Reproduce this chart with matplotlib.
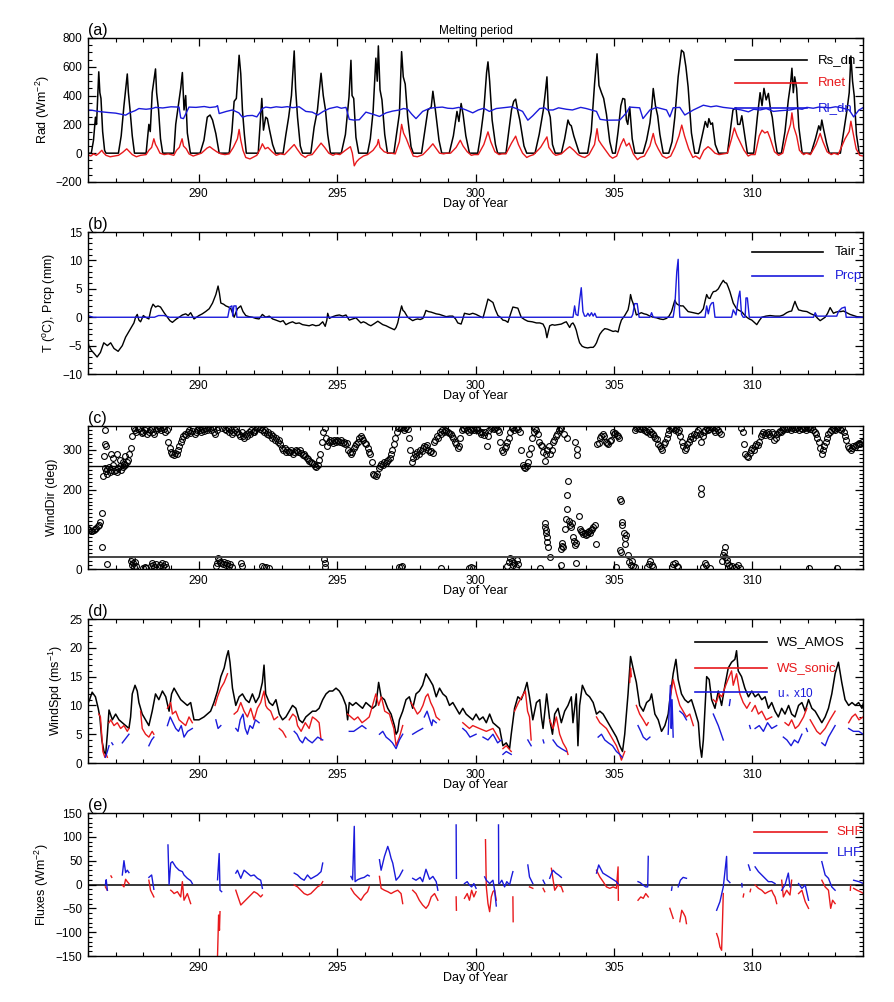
import numpy as np
import matplotlib
matplotlib.use("Agg")
import matplotlib.pyplot as plt
from matplotlib.ticker import MultipleLocator

plt.rcParams['font.family'] = ['Liberation Sans', 'DejaVu Sans']
plt.rcParams['mathtext.fontset'] = 'custom'
plt.rcParams['mathtext.rm'] = 'Liberation Sans'
plt.rcParams['mathtext.it'] = 'Liberation Sans'

# ---------------- (a) radiation, W m-2 ----------------
rs_dn = [
    (285.97, 0), (286.12, 0), (286.2, 90), (286.27, 250), (286.31, 200), (286.36, 420), (286.39, 565), (286.43, 420), (286.47, 380), (286.53, 150), (286.6, 20), (286.65, 0),
    (287.1, 0), (287.2, 120), (287.3, 330), (287.38, 480), (287.42, 550), (287.46, 420), (287.52, 300), (287.6, 120), (287.68, 0),
    (288.1, 0), (288.2, 200), (288.25, 150), (288.32, 420), (288.38, 500), (288.44, 585), (288.48, 420), (288.55, 300), (288.62, 100), (288.7, 0),
    (289.1, 0), (289.17, 200), (289.29, 370), (289.35, 450), (289.41, 560), (289.47, 300), (289.53, 400), (289.59, 140), (289.7, 0),
    (290.05, 0), (290.19, 90), (290.31, 250), (290.41, 265), (290.5, 230), (290.62, 135), (290.74, 0),
    (291.1, 0), (291.2, 150), (291.28, 360), (291.36, 380), (291.46, 680), (291.52, 550), (291.58, 300), (291.65, 130), (291.72, 0),
    (292.15, 0), (292.28, 380), (292.34, 160), (292.42, 250), (292.48, 240), (292.56, 160), (292.67, 60), (292.78, 0),
    (293.05, 0), (293.15, 130), (293.25, 250), (293.35, 400), (293.45, 710), (293.5, 450), (293.57, 250), (293.67, 50), (293.75, 0),
    (294.05, 0), (294.17, 180), (294.29, 300), (294.42, 555), (294.5, 400), (294.58, 300), (294.66, 130), (294.76, 0),
    (295.15, 0), (295.3, 130), (295.43, 390), (295.5, 645), (295.54, 400), (295.6, 380), (295.68, 110), (295.78, 0),
    (296.1, 0), (296.2, 100), (296.3, 290), (296.4, 660), (296.45, 500), (296.49, 745), (296.55, 440), (296.62, 370), (296.72, 130), (296.82, 0),
    (297.05, 0), (297.13, 110), (297.25, 275), (297.33, 705), (297.39, 530), (297.46, 480), (297.55, 250), (297.67, 45), (297.75, 0),
    (298.05, 0), (298.15, 130), (298.28, 300), (298.4, 320), (298.46, 430), (298.55, 300), (298.68, 90), (298.78, 0),
    (299.05, 0), (299.2, 120), (299.33, 290), (299.4, 220), (299.48, 345), (299.55, 270), (299.65, 120), (299.78, 0),
    (300.08, 0), (300.18, 120), (300.3, 300), (300.4, 560), (300.45, 634), (300.51, 500), (300.6, 230), (300.72, 60), (300.8, 0),
    (301.1, 0), (301.2, 150), (301.3, 300), (301.38, 360), (301.45, 375), (301.52, 300), (301.6, 230), (301.75, 50), (301.85, 0),
    (302.15, 0), (302.3, 130), (302.45, 300), (302.52, 420), (302.58, 530), (302.63, 300), (302.7, 250), (302.78, 60), (302.88, 0),
    (303.1, 0), (303.22, 100), (303.34, 230), (303.4, 200), (303.46, 190), (303.55, 120), (303.65, 60), (303.75, 0),
    (304.05, 0), (304.18, 150), (304.3, 480), (304.39, 690), (304.46, 470), (304.55, 420), (304.63, 380), (304.73, 270), (304.85, 80), (304.95, 0),
    (305.05, 0), (305.15, 150), (305.25, 330), (305.32, 380), (305.39, 375), (305.45, 230), (305.5, 200), (305.57, 320), (305.66, 100), (305.76, 0),
    (306.05, 0), (306.18, 90), (306.3, 210), (306.37, 330), (306.42, 449), (306.5, 330), (306.58, 260), (306.66, 130), (306.78, 0),
    (306.98, 0), (307.1, 80), (307.2, 250), (307.32, 530), (307.44, 715), (307.52, 700), (307.6, 600), (307.68, 460), (307.8, 140), (307.92, 0),
    (308.05, 0), (308.2, 130), (308.3, 220), (308.38, 180), (308.43, 240), (308.5, 200), (308.56, 210), (308.66, 60), (308.78, 0),
    (309.1, 0), (309.2, 150), (309.3, 300), (309.41, 315), (309.47, 200), (309.55, 200), (309.62, 260), (309.72, 130), (309.82, 0),
    (310.05, 0), (310.18, 250), (310.28, 420), (310.35, 330), (310.42, 450), (310.5, 370), (310.58, 415), (310.66, 300), (310.72, 250), (310.82, 90), (310.9, 0),
    (311.05, 0), (311.18, 150), (311.3, 370), (311.38, 480), (311.43, 590), (311.48, 420), (311.53, 530), (311.6, 450), (311.68, 180), (311.8, 0),
    (312.12, 0), (312.28, 100), (312.4, 190), (312.46, 160), (312.51, 230), (312.57, 170), (312.68, 70), (312.78, 0),
    (313.18, 0), (313.3, 150), (313.42, 300), (313.5, 420), (313.56, 675), (313.62, 500), (313.68, 400), (313.76, 130), (313.86, 0), (314.0, 0),
]
rnet = [
    (285.97, -10), (286.1, -20), (286.2, -5), (286.3, -15), (286.4, 0), (286.5, 20), (286.55, 5), (286.65, -15), (286.8, -25), (286.95, -20),
    (287.1, -15), (287.25, 5), (287.4, 30), (287.5, 10), (287.6, -10), (287.75, -25), (287.9, -15),
    (288.1, -10), (288.2, 20), (288.3, 40), (288.38, 100), (288.44, 60), (288.5, 40), (288.6, 0), (288.75, -10), (288.9, -5),
    (289.1, -15), (289.2, 20), (289.3, 40), (289.4, 100), (289.45, 50), (289.55, 30), (289.65, -5), (289.8, -20), (289.95, -10),
    (290.1, 0), (290.3, 35), (290.4, 45), (290.5, 30), (290.65, 10), (290.8, -5), (290.95, -10),
    (291.1, -5), (291.25, 40), (291.4, 100), (291.46, 165), (291.52, 90), (291.6, 20), (291.7, -30), (291.85, -40), (291.95, -30),
    (292.1, -15), (292.25, 40), (292.3, 65), (292.4, 30), (292.5, 40), (292.65, 10), (292.8, -15), (292.95, -5),
    (293.1, -10), (293.3, 30), (293.45, 60), (293.55, 30), (293.7, -10), (293.85, -30), (293.95, -15),
    (294.1, -10), (294.3, 40), (294.42, 70), (294.55, 40), (294.7, 0), (294.85, -15), (294.95, -5),
    (295.1, -10), (295.3, 20), (295.48, 45), (295.55, 0), (295.62, -88), (295.7, -60), (295.8, -40), (295.95, -20),
    (296.1, -10), (296.3, 20), (296.45, 60), (296.49, 95), (296.55, 40), (296.7, 10), (296.85, 0), (296.95, 0),
    (297.1, -5), (297.25, 80), (297.33, 200), (297.4, 140), (297.5, 100), (297.6, 50), (297.75, -20), (297.9, -25),
    (298.1, -10), (298.3, 30), (298.46, 65), (298.55, 40), (298.7, 0), (298.85, -5), (298.95, 0),
    (299.1, 0), (299.3, 40), (299.45, 90), (299.55, 50), (299.7, 10), (299.85, -15), (299.95, -10),
    (300.1, -10), (300.3, 60), (300.45, 148), (300.55, 80), (300.7, 10), (300.85, -10), (300.95, -5),
    (301.1, -5), (301.3, 70), (301.45, 118), (301.55, 60), (301.7, 0), (301.85, -30), (301.95, -20),
    (302.1, -10), (302.35, 40), (302.58, 113), (302.65, 40), (302.8, 0), (302.9, -15),
    (303.1, -5), (303.3, 30), (303.4, 45), (303.55, 20), (303.7, -10), (303.85, -25), (303.95, -30),
    (304.1, -10), (304.3, 60), (304.39, 170), (304.45, 90), (304.55, 60), (304.7, 20), (304.85, -20), (304.95, -35),
    (305.1, -20), (305.25, 60), (305.35, 100), (305.45, 50), (305.55, 70), (305.7, -5), (305.85, -45), (305.95, -30),
    (306.1, -20), (306.3, 50), (306.42, 137), (306.5, 70), (306.6, 30), (306.75, -20), (306.9, -35),
    (307.05, -20), (307.2, 40), (307.35, 120), (307.45, 195), (307.55, 120), (307.7, 30), (307.85, -30), (307.95, -20),
    (308.1, -40), (308.25, 20), (308.4, 45), (308.5, 30), (308.65, 0), (308.8, -10), (308.95, -5),
    (309.1, 0), (309.25, 100), (309.35, 175), (309.45, 120), (309.55, 80), (309.7, 20), (309.85, -20), (309.95, -10),
    (310.1, -10), (310.25, 120), (310.35, 160), (310.45, 140), (310.55, 150), (310.65, 100), (310.8, 10), (310.95, -15),
    (311.1, 0), (311.25, 120), (311.38, 200), (311.43, 280), (311.5, 180), (311.6, 120), (311.7, 20), (311.85, -10), (311.95, 0),
    (312.1, -10), (312.3, 60), (312.45, 137), (312.55, 80), (312.7, 10), (312.85, -10), (312.95, 0),
    (313.1, -10), (313.35, 100), (313.5, 150), (313.56, 222), (313.62, 160), (313.75, 30), (313.88, -15), (314.0, -20),
]
rl_dn = [
    (285.97, 300), (286.15, 298), (286.3, 292), (286.45, 288), (286.6, 285), (286.75, 282), (287.0, 278), (287.2, 270), (287.36, 264),
    (287.5, 280), (287.7, 295), (287.84, 310), (288.1, 305), (288.32, 310), (288.44, 318), (288.7, 314), (289.0, 322), (289.29, 320),
    (289.35, 245), (289.45, 240), (289.5, 260), (289.65, 320), (289.9, 318), (290.2, 324), (290.4, 317), (290.62, 322), (290.68, 330),
    (290.74, 275), (291.0, 290), (291.22, 300), (291.45, 280), (291.58, 250), (291.75, 260), (291.94, 262), (292.1, 252), (292.3, 310),
    (292.42, 320), (292.6, 315), (292.8, 322), (293.0, 318), (293.2, 323), (293.4, 316), (293.63, 322), (293.87, 290), (294.1, 285),
    (294.3, 265), (294.5, 290), (294.72, 310), (295.0, 322), (295.15, 312), (295.32, 318), (295.44, 235), (295.6, 230), (295.8, 232),
    (296.04, 285), (296.3, 270), (296.53, 255), (296.77, 280), (297.0, 292), (297.25, 300), (297.4, 310), (297.55, 305), (297.7, 270),
    (297.85, 240), (298.09, 290), (298.3, 308), (298.46, 315), (298.8, 320), (299.0, 312), (299.18, 310), (299.4, 318), (299.66, 300),
    (299.9, 280), (300.1, 300), (300.3, 312), (300.5, 290), (300.75, 310), (301.11, 318), (301.3, 322), (301.47, 310), (301.7, 290),
    (301.89, 229), (302.07, 260), (302.32, 310), (302.5, 315), (302.6, 300), (302.8, 300), (303.0, 315), (303.28, 305), (303.5, 300),
    (303.8, 318), (304.0, 310), (304.37, 290), (304.5, 235), (304.73, 229), (305.21, 230), (305.45, 280), (305.57, 320), (305.93, 315),
    (306.05, 240), (306.3, 300), (306.54, 318), (306.9, 300), (307.02, 252), (307.14, 315), (307.38, 318), (307.56, 265), (307.87, 300),
    (308.23, 333), (308.5, 322), (308.7, 328), (308.95, 318), (309.31, 310), (309.6, 300), (309.86, 287), (310.05, 305), (310.28, 300),
    (310.5, 310), (310.76, 290), (311.0, 295), (311.36, 300), (311.6, 310), (311.8, 305), (311.97, 318), (312.2, 312), (312.4, 320),
    (312.57, 318), (312.8, 315), (313.0, 322), (313.17, 318), (313.5, 300), (313.66, 252), (313.85, 300), (314.02, 318),
]

# ---------------- (b) air temperature (C) and precipitation (mm) ----------------
tair = [
    (285.97, -3.4), (286.03, -5.0), (286.12, -5.8), (286.21, -6.3), (286.33, -7.0), (286.45, -6.2), (286.57, -4.5), (286.7, -5.0), (286.82, -4.5),
    (286.94, -5.5), (287.09, -6.0), (287.24, -5.0), (287.36, -3.5), (287.54, -2.0), (287.66, -1.0), (287.72, 0.0), (287.78, 0.5), (287.84, -0.5),
    (287.9, -0.8), (288.0, 0.3), (288.08, 0.0), (288.2, -0.3), (288.28, 1.5), (288.35, 2.3), (288.44, 1.8), (288.53, 2.0), (288.62, 1.8),
    (288.75, 0.8), (288.87, 0.0), (288.96, -0.6), (289.05, -0.9), (289.17, -0.4), (289.29, 0.0), (289.41, 0.4), (289.53, 0.6), (289.62, 0.3),
    (289.71, 0.8), (289.83, -0.3), (290.01, 0.3), (290.13, 0.6), (290.25, 1.0), (290.38, 1.5), (290.5, 2.5), (290.62, 4.0), (290.7, 5.5),
    (290.75, 4.2), (290.8, 2.5), (290.9, 2.3), (290.98, 2.0), (291.08, 1.8), (291.16, 1.5), (291.22, 0.8), (291.28, 0.0), (291.34, 0.8),
    (291.4, 1.5), (291.52, 2.0), (291.6, 1.0), (291.7, 0.3), (291.82, 0.1), (291.94, 0.0), (292.06, -0.2), (292.18, -0.3), (292.3, 0.5),
    (292.42, 0.0), (292.55, 0.2), (292.67, -0.3), (292.79, -0.5), (292.95, -0.8), (293.05, -0.6), (293.15, -1.3), (293.27, -1.0),
    (293.39, -0.8), (293.51, -1.1), (293.63, -1.0), (293.75, -1.3), (293.87, -1.4), (293.99, -1.5), (294.11, -1.3), (294.23, -1.5),
    (294.35, -1.4), (294.48, -0.8), (294.57, -1.6), (294.63, -0.5), (294.66, 0.7), (294.72, -0.2), (294.84, 0.1), (294.96, 0.3),
    (295.08, 0.4), (295.2, 0.2), (295.32, 0.4), (295.44, -0.5), (295.56, -0.3), (295.68, -0.1), (295.78, -0.6), (295.86, -1.0),
    (295.95, -0.8), (296.04, -1.0), (296.13, -1.3), (296.22, -1.5), (296.35, -1.1), (296.47, -0.7), (296.56, -1.0), (296.65, -1.3),
    (296.77, -1.5), (296.89, -1.8), (296.98, -2.0), (297.07, -2.2), (297.13, -1.8), (297.19, -1.0), (297.27, 0.8), (297.33, 2.0),
    (297.38, 1.2), (297.43, 1.0), (297.49, 0.5), (297.55, 0.0), (297.64, -0.3), (297.73, -0.6), (297.82, -0.4), (297.91, -0.3),
    (298.0, -0.4), (298.1, -0.2), (298.16, 0.5), (298.21, 1.2), (298.3, 1.0), (298.4, 0.9), (298.46, 0.8), (298.58, 0.6), (298.7, 0.5),
    (298.82, 0.3), (298.94, 0.1), (299.06, 0.2), (299.18, 0.2), (299.28, -0.3), (299.36, -1.0), (299.48, -1.2), (299.54, -0.3),
    (299.6, 0.7), (299.69, 0.6), (299.78, 0.5), (299.9, 0.7), (300.02, 0.5), (300.14, 0.2), (300.27, -0.1), (300.36, 1.5), (300.45, 3.2),
    (300.54, 2.9), (300.63, 2.6), (300.72, 1.3), (300.81, 0.3), (300.9, 0.0), (300.99, -0.5), (301.08, -0.6), (301.17, -0.9),
    (301.26, 0.5), (301.35, 1.8), (301.44, 1.7), (301.53, 1.6), (301.59, 0.8), (301.65, 0.0), (301.77, -0.4), (301.89, -0.7),
    (302.05, -0.8), (302.2, -1.0), (302.32, -1.0), (302.44, -1.2), (302.52, -2.0), (302.58, -3.6), (302.63, -2.5), (302.68, -1.5),
    (302.77, -1.3), (302.86, -1.4), (302.98, -1.3), (303.1, -1.2), (303.22, -0.9), (303.28, -0.8), (303.34, -1.3), (303.4, -1.8),
    (303.46, -1.2), (303.52, -1.0), (303.58, -1.5), (303.64, -2.3), (303.7, -3.5), (303.76, -4.5), (303.85, -5.1), (303.94, -5.3),
    (304.05, -5.4), (304.15, -5.3), (304.25, -5.3), (304.31, -5.0), (304.37, -4.5), (304.43, -3.7), (304.49, -3.0), (304.58, -2.4),
    (304.67, -2.0), (304.77, -2.1), (304.87, -2.3), (304.97, -2.5), (305.06, -2.4), (305.15, -2.6), (305.21, -1.4), (305.27, -0.5),
    (305.33, -0.1), (305.39, 0.3), (305.45, 0.8), (305.51, 1.3), (305.56, 2.5), (305.6, 4.0), (305.65, 3.0), (305.69, 2.5),
    (305.75, 1.5), (305.81, 0.4), (305.9, 0.6), (305.99, 0.8), (306.09, 0.6), (306.18, 0.5), (306.3, 0.2), (306.42, 0.0),
    (306.54, -0.1), (306.66, -0.3), (306.78, -0.4), (306.9, -0.2), (306.99, 0.2), (307.08, 1.0), (307.14, 2.0), (307.2, 3.0),
    (307.26, 2.4), (307.32, 2.2), (307.41, 2.0), (307.5, 2.0), (307.59, 1.5), (307.68, 1.0), (307.78, 0.9), (307.87, 0.8),
    (307.96, 0.7), (308.05, 0.6), (308.14, 0.9), (308.23, 1.5), (308.29, 2.8), (308.35, 4.0), (308.41, 3.4), (308.47, 3.3),
    (308.53, 4.0), (308.59, 4.5), (308.68, 4.6), (308.77, 5.0), (308.86, 5.8), (308.95, 6.5), (309.01, 6.1), (309.07, 6.0),
    (309.13, 5.3), (309.19, 4.5), (309.25, 3.5), (309.31, 2.5), (309.37, 2.0), (309.43, 1.5), (309.52, 1.2), (309.61, 1.0),
    (309.7, 0.5), (309.8, 0.0), (309.89, -0.3), (309.98, -0.5), (310.07, -0.9), (310.16, -1.3), (310.25, -0.6), (310.34, 0.0),
    (310.49, 0.2), (310.64, 0.3), (310.82, 0.2), (311.0, 0.2), (311.12, 0.4), (311.24, 0.8), (311.33, 1.0), (311.42, 1.1),
    (311.48, 2.0), (311.54, 2.8), (311.6, 2.0), (311.67, 1.3), (311.82, 1.1), (311.97, 1.0), (312.12, 0.6), (312.27, 0.3),
    (312.36, -0.2), (312.45, -0.6), (312.54, -0.3), (312.63, 0.0), (312.72, 0.7), (312.81, 1.7), (312.87, 1.2), (312.93, 0.7),
    (313.02, 0.9), (313.11, 1.0), (313.2, 1.0), (313.29, 1.1), (313.41, 0.8), (313.53, 0.5), (313.65, 0.3), (313.78, 0.1), (314.02, 0.0),
]
prcp = [
    (285.97, 0.4), (286.05, 0.2), (286.2, 0.0), (288.4, 0.0), (288.55, 0.3), (288.75, 0.3), (288.95, 0.0), (291.05, 0.0), (291.12, 1.8),
    (291.2, 2.0), (291.23, 0.2), (291.27, 2.0), (291.35, 2.0), (291.38, 0.0), (303.52, 0.0), (303.58, 2.0), (303.63, 0.5), (303.7, 0.3),
    (303.76, 3.0), (303.82, 5.2), (303.88, 1.0), (303.94, 0.2), (304.0, 0.2), (304.06, 0.7), (304.12, 0.2), (304.19, 0.8), (304.25, 0.2),
    (304.31, 0.7), (304.37, 0.0), (305.63, 0.0), (305.68, 0.5), (305.75, 2.4), (305.84, 2.4), (305.91, 0.0), (306.3, 0.0), (306.36, 0.8),
    (306.42, 0.0), (307.14, 0.0), (307.2, 2.0), (307.27, 8.0), (307.32, 10.2), (307.36, 2.0), (307.38, 0.0), (308.29, 0.0), (308.35, 2.0),
    (308.41, 0.6), (308.47, 2.0), (308.53, 2.5), (308.59, 2.6), (308.65, 0.0), (309.25, 0.0), (309.31, 1.3), (309.41, 0.4), (309.5, 3.5),
    (309.55, 4.6), (309.61, 0.5), (309.67, 0.0), (309.74, 0.0), (309.77, 3.4), (309.82, 3.4), (309.89, 0.0), (312.21, 0.0), (312.27, 0.8),
    (312.33, 0.2), (313.05, 0.2), (313.11, 1.0), (313.23, 1.6), (313.35, 1.8), (313.39, 0.0), (314.02, 0.0),
]

# ---------------- (c) wind direction (deg), one row per day, 0.05-day steps ----------------
wd_first_day = 286
wd_step = 0.05
nan = np.nan
wd_rows = [
    [100, 98, 97, 95, 98, 100, 104, 108, 112, 118, 140, 235, 255, 248, 252, 258, 245, 250, 262, 248],
    [250, 245, 255, 260, 250, 258, 265, 262, 270, 275, 290, 305, 335, 355, 350, 345, 352, 355, 348, 342],
    [345, 350, 355, 340, 345, 350, 352, 345, 340, 350, 355, 358, 355, 350, 358, 352, 345, 350, 320, 305],
    [295, 290, 288, 292, 290, 300, 310, 320, 328, 335, 340, 338, 345, 350, 342, 348, 355, 340, 345, 350],
    [355, 350, 345, 352, 348, 355, 350, 358, 355, 350, 358, 345, 340, 350, 358, nan, nan, 355, nan, 352],
    [350, 355, 345, 350, 340, 345, 350, 355, 345, 340, 335, 345, 335, 330, 340, 335, 345, 340, 350, 345],
    [345, 350, 355, 358, 352, 358, 350, 345, 350, 340, 345, 338, 340, 330, 335, 325, 330, 320, 325, 315],
    [305, 300, 305, 295, 300, 295, 295, 300, 290, 295, 300, 298, 295, 300, 292, 288, 290, 285, 280, 278],
    [272, 270, 268, 265, 260, 258, 262, 275, 290, 320, 345, 355, 330, 310, 320, 325, 322, 318, 325, 320],
    [325, 322, 320, 325, 318, 320, 315, 318, 300, 295, 290, 295, 305, 310, 315, 320, 330, 335, 330, 325],
    [318, 315, 305, 295, 290, 270, 240, 238, 235, 240, 255, 260, 265, 262, 270, 268, 272, 275, 280, 290],
    [300, 315, 330, 345, 355, 358, 355, 358, 350, 355, 358, 352, 330, 300, 270, 280, 290, 285, 295, 290],
    [300, 298, 305, 310, 308, 312, 300, 295, 298, 292, 320, 325, 335, 330, 345, 340, 350, 345, 350, 348],
    [345, 342, 340, 335, 330, 320, 315, 305, 310, 330, 350, 355, 352, 358, 350, 345, 352, 350, 355, 350],
    [352, 355, 350, 345, 340, 345, 338, 345, 310, 335, 350, 355, 358, 352, 355, 358, 350, 345, 320, 300],
    [295, 305, 310, 320, 330, 345, 355, 358, 350, 355, 358, 352, 345, 300, 262, 258, 255, 260, 270, 290],
    [305, 330, 345, 355, 350, 340, 320, 312, 310, 295, 272, 290, 300, 310, 290, 300, 320, 325, 335, 340],
    [350, 355, 355, nan, nan, nan, nan, nan, nan, nan, nan, nan, 320, 303, nan, nan, nan, nan, nan, nan],
    [nan, nan, nan, nan, nan, nan, nan, nan, 315, 318, 330, 335, 340, 335, 320, 318, 315, 322, 325, 345],
    [340, 342, 338, 335, 330, nan, nan, nan, nan, nan, nan, nan, nan, nan, nan, 350, 355, 358, 355, 352],
    [358, 355, 350, 348, 345, 350, 340, 345, 340, 335, 330, 328, 315, 310, 305, 300, 315, 320, 330, 340],
    [350, 355, 358, 355, 350, 352, 345, 350, 335, 320, 310, 300, 305, 315, 320, 328, 335, 330, 340, 338],
    [345, 350, 340, 320, 335, 345, 350, 355, 350, 352, 358, 355, 350, 345, 355, 350, 345, 340, nan, nan],
    [nan, nan, nan, nan, nan, nan, nan, nan, nan, nan, nan, nan, 355, 345, 314, 290, 285, 283, 292, 300],
    [305, 300, 310, 315, 312, 320, 335, 340, 345, 338, 342, 345, 340, 335, 345, 340, 325, 330, 340, 345],
    [348, 345, 350, 355, 358, 352, 355, 358, 350, 355, 358, 352, 355, 358, 350, 355, 352, 358, 355, 350],
    [355, 358, 352, 358, 350, 345, 340, 330, 320, 305, 290, 300, 310, 320, 330, 340, 345, 350, 355, 352],
    [350, 355, 358, 352, 350, 355, 345, 335, 325, 310, 305, 300, 305, 310, 308, 312, 315, 318, 315, 320],
]
wd_extra = [
    (286.52, 55), (286.57, 285), (286.6, 315), (286.62, 350), (286.65, 310), (286.68, 240), (286.7, 12),
    (286.85, 290), (286.9, 280), (287.05, 290), (287.15, 275), (287.25, 270), (287.35, 285),
    (287.55, 20), (287.58, 10), (287.6, 25), (287.63, 15), (287.66, 5), (287.7, 18), (287.72, 8),
    (288.0, 3), (288.05, 5), (288.08, 2), (288.26, 8), (288.3, 15), (288.35, 10), (288.4, 5), (288.44, 12),
    (288.56, 5), (288.62, 10), (288.68, 15), (288.72, 8), (288.78, 12), (288.81, 5),
    (290.62, 8), (290.66, 15), (290.7, 28), (290.73, 22), (290.78, 18), (290.82, 15), (290.88, 12), (290.92, 18),
    (290.97, 10), (291.02, 14), (291.08, 8), (291.14, 12), (291.2, 5), (291.52, 14), (291.56, 8),
    (292.3, 8), (292.35, 4), (292.42, 6), (292.55, 3), (294.52, 25), (294.55, 15), (294.58, 5),
    (297.25, 6), (297.3, 4), (297.35, 8), (298.76, 3), (299.78, 3), (299.85, 5), (299.9, 2),
    (301.15, 8), (301.2, 18), (301.25, 28), (301.3, 20), (301.35, 10), (301.4, 15), (301.45, 5), (301.5, 22), (301.53, 12),
    (302.32, 3), (302.5, 115), (302.52, 106), (302.54, 98), (302.56, 90), (302.58, 81), (302.6, 69), (302.62, 56), (302.68, 31),
    (303.1, 50), (303.12, 58), (303.14, 65), (303.16, 55), (303.25, 100), (303.27, 127), (303.29, 152), (303.3, 186), (303.33, 222),
    (303.36, 120), (303.4, 110), (303.44, 106), (303.48, 115), (303.52, 81), (303.56, 70), (303.6, 60), (303.64, 65), (303.74, 133),
    (303.78, 100), (303.82, 95), (303.86, 92), (303.9, 88), (303.94, 90), (303.98, 85), (304.02, 88), (304.06, 92), (304.1, 95),
    (304.14, 90), (304.18, 98), (304.22, 100), (304.26, 105), (304.31, 110), (304.37, 63),
    (303.1, 10), (303.64, 15), (303.67, 286), (303.2, 340), (303.3, 330),
    (305.09, 5), (305.21, 177), (305.25, 171), (305.28, 119), (305.3, 110), (305.35, 90), (305.39, 77), (305.42, 85), (305.22, 49),
    (305.27, 44), (305.4, 64), (305.5, 35), (305.55, 18), (305.6, 10), (305.65, 20), (305.7, 8), (305.75, 5),
    (306.18, 5), (306.25, 12), (306.3, 20), (306.36, 10), (306.42, 5), (307.08, 5), (307.15, 12), (307.2, 15), (307.28, 8), (307.32, 5),
    (308.14, 203), (308.14, 188), (308.23, 5), (308.28, 15), (308.32, 10), (308.47, 3),
    (308.89, 20), (308.93, 35), (308.96, 43), (309.0, 56), (309.03, 30), (309.07, 22), (309.1, 15), (309.15, 10), (309.2, 5),
    (309.28, 8), (309.35, 3), (309.42, 6), (309.5, 10), (309.55, 3), (312.03, 3), (313.05, 3),
]

# ---------------- (d) wind speed (m s-1) ----------------
ws_amos = [
    (285.97, 10.0), (286.06, 11.0), (286.15, 12.3), (286.27, 11.5), (286.37, 9.5), (286.43, 8.0), (286.5, 4.0), (286.58, 2.0), (286.64, 1.5),
    (286.7, 5.0), (286.76, 9.2), (286.88, 7.5), (287.0, 8.5), (287.12, 7.5), (287.24, 7.0), (287.36, 6.5), (287.48, 6.0), (287.54, 8.0),
    (287.6, 12.0), (287.7, 13.5), (287.78, 12.5), (287.84, 10.5), (287.96, 8.5), (288.08, 7.5), (288.2, 6.5), (288.32, 9.0), (288.44, 12.0),
    (288.56, 11.0), (288.69, 12.5), (288.81, 11.5), (288.93, 9.0), (289.02, 12.0), (289.11, 13.0), (289.23, 12.0), (289.35, 11.0),
    (289.47, 10.5), (289.59, 10.0), (289.71, 10.5), (289.83, 7.5), (290.01, 7.5), (290.19, 8.0), (290.31, 8.5), (290.43, 9.0),
    (290.55, 10.5), (290.68, 12.5), (290.8, 15.0), (290.92, 16.5), (291.01, 18.5), (291.07, 19.5), (291.13, 17.5), (291.22, 13.0),
    (291.34, 10.0), (291.46, 11.5), (291.58, 12.0), (291.7, 11.0), (291.82, 10.5), (291.94, 12.0), (292.06, 10.5), (292.18, 11.5),
    (292.3, 14.0), (292.36, 17.0), (292.42, 12.0), (292.55, 10.5), (292.67, 10.0), (292.79, 11.0), (292.91, 8.5), (293.03, 7.5),
    (293.15, 8.0), (293.27, 9.0), (293.39, 10.0), (293.51, 9.5), (293.63, 7.5), (293.75, 7.0), (293.87, 8.0), (293.99, 8.5),
    (294.11, 9.0), (294.23, 9.0), (294.35, 9.5), (294.48, 11.0), (294.6, 12.0), (294.72, 12.5), (294.84, 12.5), (294.96, 13.0),
    (295.08, 12.5), (295.2, 11.5), (295.32, 10.0), (295.38, 7.5), (295.44, 10.5), (295.56, 10.0), (295.68, 10.5), (295.8, 10.0),
    (295.92, 9.5), (296.04, 10.5), (296.16, 10.0), (296.28, 9.5), (296.4, 10.0), (296.5, 14.0), (296.59, 11.5), (296.71, 11.0),
    (296.83, 9.5), (296.95, 8.5), (297.07, 6.5), (297.13, 5.0), (297.19, 5.5), (297.25, 7.5), (297.37, 9.0), (297.49, 11.0),
    (297.61, 11.5), (297.73, 9.5), (297.85, 12.0), (297.97, 12.5), (298.09, 13.5), (298.21, 15.5), (298.34, 14.5), (298.46, 13.5),
    (298.58, 11.5), (298.7, 13.0), (298.82, 12.0), (298.94, 11.5), (299.06, 10.0), (299.18, 10.5), (299.3, 9.5), (299.42, 8.5),
    (299.54, 9.5), (299.66, 8.5), (299.78, 8.0), (299.9, 7.5), (300.02, 8.5), (300.14, 7.5), (300.27, 8.0), (300.39, 7.0),
    (300.51, 8.5), (300.63, 7.0), (300.75, 6.5), (300.87, 6.0), (300.99, 3.0), (301.11, 3.5), (301.23, 2.5), (301.29, 5.0),
    (301.41, 9.5), (301.53, 11.5), (301.65, 11.0), (301.77, 12.5), (301.86, 14.0), (301.95, 11.5), (302.07, 7.5), (302.2, 10.5),
    (302.32, 11.0), (302.38, 8.0), (302.44, 6.0), (302.57, 12.0), (302.68, 7.5), (302.78, 5.0), (302.86, 8.5), (302.98, 9.5),
    (303.1, 7.0), (303.22, 9.0), (303.34, 10.0), (303.46, 11.5), (303.52, 7.0), (303.64, 12.0), (303.7, 3.0), (303.76, 10.0),
    (303.86, 13.5), (304.0, 12.0), (304.12, 11.5), (304.25, 10.5), (304.37, 8.5), (304.49, 9.0), (304.61, 8.5), (304.73, 7.5),
    (304.85, 6.5), (304.97, 5.5), (305.09, 4.5), (305.21, 3.0), (305.31, 2.0), (305.39, 5.0), (305.51, 12.0), (305.6, 18.5),
    (305.69, 16.5), (305.81, 14.0), (305.93, 10.0), (306.06, 9.0), (306.18, 10.5), (306.3, 11.0), (306.36, 12.0), (306.48, 8.5),
    (306.6, 7.5), (306.72, 5.5), (306.84, 6.5), (306.96, 8.5), (307.02, 11.0), (307.14, 15.5), (307.24, 18.0), (307.32, 14.5),
    (307.44, 12.0), (307.56, 11.0), (307.68, 10.5), (307.8, 11.0), (307.93, 9.0), (308.05, 7.0), (308.11, 3.0), (308.17, 1.0),
    (308.23, 4.0), (308.29, 9.5), (308.35, 15.0), (308.44, 14.5), (308.53, 11.0), (308.65, 9.5), (308.77, 12.5), (308.89, 10.0),
    (309.01, 13.5), (309.13, 16.5), (309.25, 17.5), (309.37, 18.0), (309.43, 19.5), (309.49, 16.0), (309.61, 15.0), (309.73, 13.0),
    (309.86, 11.5), (309.98, 12.5), (310.1, 11.5), (310.22, 12.0), (310.34, 11.0), (310.46, 11.5), (310.58, 9.5), (310.7, 10.5),
    (310.82, 9.0), (310.94, 8.0), (311.06, 9.5), (311.18, 8.5), (311.31, 10.0), (311.42, 8.5), (311.54, 8.0), (311.67, 10.0),
    (311.79, 10.5), (311.91, 9.0), (312.03, 11.0), (312.15, 9.5), (312.27, 9.0), (312.39, 8.0), (312.51, 7.0), (312.63, 8.0),
    (312.75, 9.5), (312.87, 12.0), (312.99, 15.5), (313.11, 17.5), (313.23, 14.0), (313.35, 11.0), (313.48, 10.0), (313.6, 10.5),
    (313.72, 10.0), (313.84, 10.5), (313.96, 9.5), (314.02, 10.5),
]
ws_sonic = [
    [(286.39, 8.5), (286.45, 8.0), (286.54, 2.0), (286.61, 1.0), (286.66, 1.5), (286.7, 1.0)],
    [(286.76, 7.0), (286.82, 7.5), (286.94, 6.5), (287.06, 7.0), (287.18, 6.0), (287.3, 6.5), (287.42, 5.5), (287.48, 6.0)],
    [(287.9, 9.0), (287.96, 6.0), (288.08, 5.0), (288.2, 4.5), (288.32, 5.5), (288.38, 5.0)],
    [(288.87, 9.5), (288.99, 10.5), (289.05, 8.5), (289.17, 9.0), (289.29, 7.5), (289.41, 7.0), (289.53, 6.5), (289.65, 8.0), (289.77, 7.0)],
    [(290.59, 10.0), (290.68, 11.5), (290.8, 13.0), (290.92, 14.0), (291.04, 15.5)],
    [(291.28, 8.5), (291.4, 9.0), (291.52, 10.5), (291.64, 9.0), (291.76, 8.0), (291.88, 9.5), (292.0, 7.5), (292.12, 9.5), (292.24, 10.5),
     (292.36, 12.5), (292.42, 10.0), (292.48, 9.5), (292.6, 9.0), (292.72, 7.5), (292.85, 8.0)],
    [(292.91, 6.0), (293.03, 5.5), (293.15, 4.5)],
    [(293.27, 7.5), (293.4, 8.5), (293.51, 8.0), (293.57, 6.5), (293.7, 5.5), (293.85, 7.0), (293.99, 6.0), (294.11, 8.0), (294.25, 7.5),
     (294.35, 7.0), (294.42, 4.0)],
    [(295.38, 8.5), (295.5, 8.0), (295.62, 7.5), (295.75, 8.0), (295.9, 7.0), (296.04, 7.5), (296.16, 8.0), (296.28, 10.0), (296.4, 12.0),
     (296.5, 10.0), (296.6, 11.5), (296.72, 9.0), (296.89, 8.5), (296.95, 7.5), (297.05, 6.0), (297.13, 3.0), (297.25, 4.5), (297.37, 6.5)],
    [(297.67, 10.5), (297.79, 9.5), (297.9, 8.5), (298.0, 9.0), (298.1, 10.0), (298.2, 11.5), (298.28, 12.0), (298.38, 10.5), (298.48, 9.5),
     (298.58, 8.0), (298.7, 7.5)],
    [(299.54, 7.0), (299.66, 6.5), (299.78, 6.0), (299.9, 6.5), (300.14, 6.0), (300.39, 5.5), (300.63, 6.0), (300.75, 5.0), (300.87, 4.0)],
    [(300.99, 2.5), (301.11, 3.0), (301.29, 2.0)],
    [(301.41, 9.0), (301.55, 10.5), (301.8, 12.5), (301.88, 9.0), (301.95, 8.0), (302.01, 4.0)],
    [(302.68, 7.5), (302.8, 6.0), (302.92, 8.0), (303.04, 5.0), (303.16, 3.5), (303.28, 2.5), (303.34, 1.5)],
    [(304.37, 8.0), (304.49, 7.0), (304.61, 6.5), (304.73, 6.0), (304.85, 5.0), (304.97, 4.0), (305.09, 3.0), (305.21, 1.5), (305.27, 0.5),
     (305.39, 2.0)],
    [(305.57, 14.0), (305.6, 16.5), (305.63, 15.0)],
    [(305.81, 10.0), (305.93, 8.5), (306.06, 7.5), (306.18, 6.5), (306.24, 7.0)],
    [(307.02, 11.0), (307.14, 14.5), (307.26, 12.0), (307.38, 10.0), (307.5, 9.0), (307.62, 8.0), (307.74, 8.5), (307.87, 6.5)],
    [(308.59, 11.0), (308.7, 10.5), (308.8, 12.0), (308.9, 11.5), (309.0, 13.0), (309.12, 14.5), (309.25, 16.0), (309.31, 13.5),
     (309.43, 15.5), (309.55, 12.0), (309.67, 10.5), (309.8, 9.5), (309.92, 10.5)],
    [(309.98, 9.0), (310.1, 10.0), (310.22, 8.5), (310.34, 9.0), (310.5, 7.5), (310.7, 8.0)],
    [(311.18, 7.0), (311.31, 6.5), (311.42, 7.5), (311.55, 6.0), (311.67, 6.5), (311.85, 8.0), (311.97, 9.5)],
    [(312.09, 7.5), (312.21, 6.5), (312.33, 5.5), (312.45, 5.0), (312.63, 6.0), (312.8, 7.5), (312.99, 9.0)],
    [(313.48, 7.0), (313.6, 8.0), (313.72, 8.5), (313.85, 7.5), (314.0, 8.0)],
]
ustar10 = [
    [(286.63, 1.0), (286.7, 2.0), (286.76, 3.0)],
    [(286.86, 3.5), (286.9, 3.2)],
    [(287.24, 3.5), (287.32, 4.0), (287.4, 4.5), (287.48, 5.0)],
    [(288.2, 3.0), (288.3, 4.0), (288.38, 4.5)],
    [(288.87, 6.5), (288.97, 8.0), (289.07, 7.0), (289.17, 6.0), (289.27, 5.5), (289.37, 6.5), (289.47, 4.5), (289.6, 5.5), (289.77, 6.0)],
    [(290.62, 7.5), (290.7, 6.0), (290.8, 6.5)],
    [(291.34, 6.0), (291.42, 5.5), (291.5, 7.5), (291.6, 8.5), (291.68, 6.0), (291.76, 5.0), (291.85, 6.5), (291.95, 6.0), (292.05, 7.5),
     (292.18, 7.0)],
    [(293.45, 5.5), (293.55, 5.0), (293.65, 4.0), (293.75, 3.5), (293.85, 4.5), (293.95, 4.0), (294.1, 3.5), (294.3, 4.5), (294.48, 4.0)],
    [(295.44, 5.5), (295.6, 5.5), (295.75, 6.0), (295.9, 6.5), (296.04, 6.0)],
    [(296.53, 5.0), (296.65, 5.5), (296.77, 4.5), (296.9, 4.0), (297.0, 3.5), (297.13, 2.5), (297.25, 4.0), (297.37, 5.0)],
    [(297.73, 5.0), (297.9, 5.5), (298.09, 6.0)],
    [(298.15, 8.0), (298.25, 9.0), (298.35, 7.5), (298.42, 6.5), (298.46, 7.5), (298.58, 7.0)],
    [(299.54, 6.0), (299.66, 5.5), (299.8, 4.5), (300.02, 5.0)],
    [(300.27, 4.5), (300.45, 4.0), (300.63, 5.0), (300.8, 3.5), (300.93, 4.0)],
    [(300.99, 1.5), (301.11, 2.0), (301.29, 1.5)],
    [(301.89, 4.0), (302.01, 3.0)],
    [(302.44, 4.0), (302.47, 3.5)],
    [(302.8, 4.0), (302.95, 3.0), (303.1, 2.5), (303.28, 2.0)],
    [(304.43, 4.5), (304.55, 5.0), (304.67, 4.0), (304.8, 3.5), (304.95, 3.0), (305.09, 2.0), (305.21, 1.5), (305.3, 1.0)],
    [(305.87, 6.5), (305.97, 5.5), (306.06, 4.5), (306.18, 4.0), (306.3, 4.5)],
    [(306.96, 5.0), (307.0, 9.5), (307.04, 13.5), (307.07, 6.0), (307.1, 11.0), (307.14, 4.5)],
    [(307.38, 9.0), (307.5, 8.5), (307.62, 7.5)],
    [(308.59, 8.5), (308.77, 6.5), (308.95, 4.0)],
    [(309.17, 10.0), (309.2, 11.0)],
    [(309.9, 6.5), (309.93, 6.0)],
    [(310.1, 6.0), (310.25, 6.5), (310.4, 5.5), (310.55, 7.0), (310.7, 6.0), (310.88, 6.5)],
    [(311.12, 4.5), (311.25, 4.0), (311.4, 3.0), (311.52, 4.0), (311.65, 3.5), (311.79, 5.0)],
    [(311.95, 6.0), (311.99, 5.5)],
    [(312.51, 3.5), (312.63, 3.0), (312.75, 4.5), (312.87, 5.5), (312.99, 6.5)],
    [(313.48, 6.0), (313.65, 5.5), (313.85, 5.5), (314.0, 5.0)],
]

# ---------------- (e) turbulent fluxes (W m-2) ----------------
shf = [
    [(286.63, -5), (286.7, -12)],
    [(286.83, 18), (286.86, 15)],
    [(287.24, -1), (287.3, -5), (287.36, 11), (287.42, 6), (287.48, 2)],
    [(288.2, 9), (288.26, -12), (288.32, -19), (288.38, -26)],
    [(288.99, -12), (289.05, -15), (289.11, -19), (289.23, -15), (289.35, -26), (289.41, 6), (289.47, -33), (289.59, -19), (289.71, -40)],
    [(290.68, -150), (290.72, -64), (290.75, -96), (290.77, -57)],
    [(291.34, -12), (291.42, -26), (291.52, -43), (291.64, -36), (291.76, -29), (291.88, -22), (292.0, -15), (292.12, -19), (292.24, -26),
     (292.3, -22)],
    [(293.45, -1), (293.57, -5), (293.69, -12), (293.81, -19), (293.93, -22), (294.05, -19), (294.17, -12), (294.29, -5), (294.41, -1),
     (294.48, 6)],
    [(295.5, -8), (295.62, -19), (295.74, -26), (295.86, -33), (295.98, -22), (296.1, -15), (296.16, -5)],
    [(296.53, 17), (296.59, -8), (296.71, -12), (296.83, -15), (296.95, -19), (297.07, -15), (297.19, -12), (297.31, -19), (297.37, -40)],
    [(297.73, -12), (297.85, -19), (297.97, -33), (298.09, -43), (298.21, -50), (298.3, -43), (298.4, -26), (298.52, -19), (298.64, -33)],
    [(299.3, -26), (299.31, -54)],
    [(299.6, -29), (299.7, -19), (299.78, -33), (299.86, -12), (299.94, -26), (300.02, -15)],
    [(300.36, 94), (300.39, -5), (300.45, -40), (300.51, -57), (300.57, -26), (300.63, -15), (300.69, -12), (300.75, -33)],
    [(301.35, -26), (301.36, -78)],
    [(301.95, -5), (302.07, -8)],
    [(302.44, -8), (302.5, -15)],
    [(302.74, 34), (302.86, -12), (302.98, -1), (303.1, -5), (303.16, -15)],
    [(304.37, 30), (304.49, 16), (304.61, 6), (304.73, -5), (304.85, -8), (304.97, -5), (305.09, -8), (305.15, 37), (305.16, -33)],
    [(305.87, -33), (305.97, -26), (306.06, -29), (306.15, -19), (306.24, -26)],
    [(307.02, -50), (307.14, -71)],
    [(307.38, -78), (307.45, -54), (307.52, -61), (307.58, -68), (307.62, -82)],
    [(308.71, -103), (308.77, -113), (308.83, -131), (308.89, -138), (308.92, -82), (308.95, -19)],
    [(309.67, -26), (309.69, -20)],
    [(309.92, -15), (309.94, -10)],
    [(310.1, -1), (310.22, -8), (310.34, -12), (310.46, -19), (310.58, -15), (310.7, -12), (310.75, -19), (310.82, -26), (310.88, -40)],
    [(311.06, 9), (311.12, -26), (311.24, -12), (311.36, -22), (311.42, 9)],
    [(311.67, -19), (311.79, -12), (311.91, -36), (312.03, -50)],
    [(312.51, 9), (312.63, -5), (312.75, -12), (312.83, -50), (312.9, -33), (312.99, -40)],
    [(313.54, -12), (313.55, -2)],
    [(313.66, -8), (313.78, -12), (313.9, -15), (314.02, -19)],
]
lhf = [
    [(286.63, 0), (286.66, 10), (286.7, -12)],
    [(287.24, 20), (287.3, 50), (287.36, 25), (287.42, 30), (287.48, 25)],
    [(288.2, 15), (288.3, 20), (288.38, -10)],
    [(288.89, 83), (288.93, 0), (288.99, 45), (289.05, 48), (289.17, 37), (289.29, 30), (289.41, 27), (289.47, 20), (289.59, 13),
     (289.71, 8), (289.77, 2)],
    [(290.68, 10), (290.74, 65), (290.77, -12), (290.83, -15)],
    [(291.34, 24), (291.4, 30), (291.52, 13), (291.64, 30), (291.76, 24), (291.88, 18), (292.0, 20), (292.12, 13), (292.24, 9), (292.3, -8)],
    [(293.45, 24), (293.57, 20), (293.69, 13), (293.81, 9), (293.93, 20), (294.05, 12), (294.17, 16), (294.29, 20), (294.42, 27),
     (294.48, 45)],
    [(295.5, 17), (295.56, 10), (295.62, 122), (295.65, 6), (295.74, 10), (295.86, 13), (295.98, 15), (296.1, 20), (296.16, 18)],
    [(296.53, 52), (296.59, 30), (296.71, 59), (296.83, 80), (296.89, 69), (296.95, 55), (297.01, 45), (297.13, 9), (297.25, 17),
     (297.37, 30)],
    [(297.73, 13), (297.85, 9), (298.0, 15), (298.09, 6), (298.21, 32), (298.34, 11), (298.46, 17), (298.58, 6), (298.64, -12)],
    [(299.3, 125), (299.31, 13)],
    [(299.6, 2), (299.7, 6), (299.78, -1), (299.86, -5), (299.94, 2), (300.02, -8)],
    [(300.33, 16), (300.39, 9), (300.51, 2), (300.63, 9), (300.69, -12), (300.75, -45)],
    [(300.83, 125), (300.84, 2)],
    [(300.87, 2), (300.95, 9), (301.05, -5), (301.13, 6), (301.23, -1), (301.3, 16), (301.35, 27)],
    [(301.89, 41), (301.95, 16), (302.01, 9), (302.07, 2)],
    [(302.44, 9), (302.5, 2)],
    [(302.68, 13), (302.75, 24), (302.8, 30), (302.9, 24), (303.0, 20), (303.1, 15)],
    [(304.37, 24), (304.45, 41), (304.6, 24), (304.85, 15), (305.09, 6), (305.15, 1)],
    [(305.87, 6), (305.95, 4), (306.05, -1), (306.15, -5), (306.22, -5), (306.24, 59)],
    [(307.08, -12), (307.1, -5)],
    [(307.32, -5), (307.4, 9), (307.5, 15), (307.62, 13)],
    [(308.71, -54), (308.83, -36), (308.95, -5), (309.07, 59), (309.09, 10), (309.19, 4)],
    [(309.62, 2), (309.63, -5)],
    [(309.86, 41), (309.92, 30)],
    [(310.1, 37), (310.22, 27), (310.34, 20), (310.46, 13), (310.58, 6), (310.7, 6), (310.82, 2)],
    [(311.06, -12), (311.18, -1), (311.3, 24), (311.36, -5)],
    [(311.67, 2), (311.79, -8), (311.91, -1), (312.03, -33)],
    [(312.51, 48), (312.63, 20), (312.75, 13), (312.87, -5), (312.99, -12)],
    [(313.66, 9), (313.85, 6), (314.02, 2)],
]

BLACK = 'black'
RED = '#e8191c'
BLUE = '#1a1adb'


def xy(pts):
    a = np.array(pts, dtype=float)
    return a[:, 0], a[:, 1]


def style(ax, ylim, ymaj, ymin, ylabel, tag):
    ax.set_xlim(286, 314)
    ax.set_ylim(*ylim)
    ax.xaxis.set_major_locator(MultipleLocator(5))
    ax.xaxis.set_minor_locator(MultipleLocator(1))
    ax.yaxis.set_major_locator(MultipleLocator(ymaj))
    ax.yaxis.set_minor_locator(MultipleLocator(ymin))
    ax.tick_params(which='both', direction='in', top=True, right=True, labelsize=8.5, pad=4)
    ax.tick_params(which='major', length=6, width=0.9)
    ax.tick_params(which='minor', length=3, width=0.8)
    for s in ax.spines.values():
        s.set_linewidth(1.0)
    ax.set_xlabel('Day of Year', fontsize=9, labelpad=-1)
    ax.set_ylabel(ylabel, fontsize=9, labelpad=3)
    ax.text(0.0, 1.0, tag, transform=ax.transAxes, ha='left', va='bottom', fontsize=11.5)


def legend_entry(ax, y, x0, x1, xt, label, color, size=9.5):
    ax.plot([x0, x1], [y, y], color=color, lw=1.2, transform=ax.transAxes, zorder=5)
    ax.text(xt, y, label, color=color, transform=ax.transAxes, ha='left', va='center',
            fontsize=size, zorder=5, clip_on=True)


fig = plt.figure(figsize=(8.94, 10.02), dpi=100)
L, W = 0.0984, 0.867
ax_a = fig.add_axes([L, 0.8184, W, 0.1437])
ax_b = fig.add_axes([L, 0.6267, W, 0.1417])
ax_c = fig.add_axes([L, 0.4321, W, 0.1427])
ax_d = fig.add_axes([L, 0.2385, W, 0.1437])
ax_e = fig.add_axes([L, 0.0459, W, 0.1427])

# (a)
d, v = xy(rs_dn)
ax_a.plot(d, v, color=BLACK, lw=1.1)
d, v = xy(rnet)
ax_a.plot(d, v, color=RED, lw=1.0)
d, v = xy(rl_dn)
ax_a.plot(d, v, color=BLUE, lw=1.0)
style(ax_a, (-200, 800), 200, 50, 'Rad (Wm$^{-2}$)', '(a)')
ax_a.set_title('Melting period', fontsize=8.5, pad=3)
legend_entry(ax_a, 0.847, 0.835, 0.928, 0.942, 'Rs_dn', BLACK)
legend_entry(ax_a, 0.687, 0.835, 0.928, 0.942, 'Rnet', RED)
legend_entry(ax_a, 0.514, 0.835, 0.928, 0.942, 'Rl_dn', BLUE)

# (b)
d, v = xy(tair)
ax_b.plot(d, v, color=BLACK, lw=1.0)
d, v = xy(prcp)
ax_b.plot(d, v, color=BLUE, lw=1.0)
style(ax_b, (-10, 15), 5, 1, 'T ($^o$C), Prcp (mm)', '(b)')
legend_entry(ax_b, 0.86, 0.857, 0.948, 0.963, 'Tair', BLACK)
legend_entry(ax_b, 0.69, 0.857, 0.948, 0.963, 'Prcp', BLUE)

# (c)
wd = np.array(wd_rows, dtype=float).ravel()
wd_days = wd_first_day + wd_step * np.arange(wd.size)
ax_c.plot(wd_days, wd, 'o', ms=4.2, mfc='none', mec=BLACK, mew=0.8, clip_on=True)
d, v = xy(wd_extra)
ax_c.plot(d, v, 'o', ms=4.2, mfc='none', mec=BLACK, mew=0.8, clip_on=True)
ax_c.axhline(260, color=BLACK, lw=1.0)
ax_c.axhline(30, color='#444444', lw=1.4)
style(ax_c, (0, 360), 100, 10, 'WindDir (deg)', '(c)')

# (d)
d, v = xy(ws_amos)
ax_d.plot(d, v, color=BLACK, lw=1.1)
for seg in ws_sonic:
    d, v = xy(seg)
    ax_d.plot(d, v, color=RED, lw=1.0)
for seg in ustar10:
    d, v = xy(seg)
    ax_d.plot(d, v, color=BLUE, lw=1.0)
style(ax_d, (0, 25), 5, 1, 'WindSpd (ms$^{-1}$)', '(d)')
legend_entry(ax_d, 0.84, 0.783, 0.876, 0.889, 'WS_AMOS', BLACK)
legend_entry(ax_d, 0.66, 0.783, 0.876, 0.889, 'WS_sonic', RED)
legend_entry(ax_d, 0.49, 0.783, 0.876, 0.889, 'u$_*$ x10', BLUE, size=8.5)

# (e)
ax_e.axhline(0, color=BLACK, lw=1.1)
for seg in shf:
    d, v = xy(seg)
    ax_e.plot(d, v, color=RED, lw=1.0)
for seg in lhf:
    d, v = xy(seg)
    ax_e.plot(d, v, color=BLUE, lw=1.0)
style(ax_e, (-150, 150), 50, 10, 'Fluxes (Wm$^{-2}$)', '(e)')
legend_entry(ax_e, 0.87, 0.859, 0.954, 0.966, 'SHF', RED)
legend_entry(ax_e, 0.72, 0.859, 0.954, 0.966, 'LHF', BLUE)

fig.savefig('out.png', dpi=100)
